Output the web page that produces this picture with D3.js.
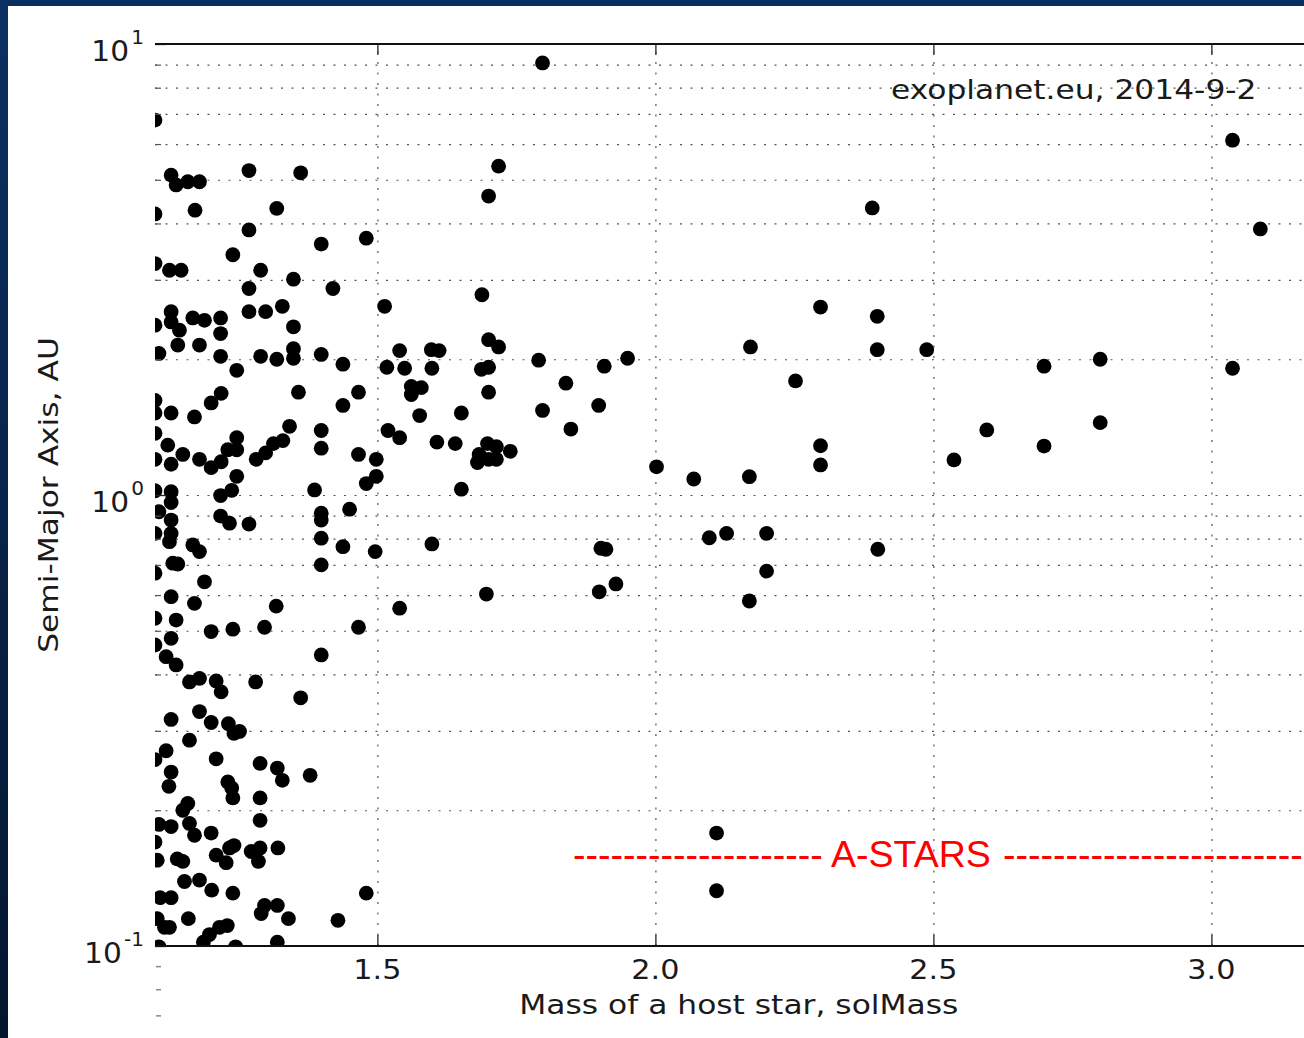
<!DOCTYPE html>
<html><head><meta charset="utf-8">
<script src="https://cdn.jsdelivr.net/npm/d3@7"></script>
<style>html,body{margin:0;padding:0;background:#fff;overflow:hidden}</style>
</head><body>
<svg id="c" width="1304" height="1038"></svg>
<script>
// Host star mass (solMass) and semi-major axis (AU)
const hostMass = [
1.100,1.129,1.138,1.159,1.180,1.269,1.362,1.100,1.172,1.319,1.269,1.240,1.100,1.126,1.147,1.290,1.349,1.269,
1.129,1.129,1.144,1.168,1.189,1.218,1.218,1.269,1.299,1.329,1.349,1.100,1.107,1.141,1.180,1.218,1.247,1.290,
1.319,1.349,1.349,1.100,1.100,1.129,1.171,1.201,1.219,1.358,1.100,1.123,1.150,1.100,1.129,1.180,1.201,1.219,
1.231,1.247,1.247,1.282,1.299,1.313,1.330,1.342,1.247,1.238,1.218,1.100,1.129,1.129,1.107,1.129,1.129,1.126,
1.100,1.218,1.234,1.269,1.168,1.180,1.132,1.141,1.100,1.189,1.129,1.171,1.100,1.138,1.201,1.240,1.297,1.318,
1.129,1.100,1.120,1.138,1.162,1.180,1.210,1.219,1.281,1.362,1.129,1.180,1.201,1.232,1.242,1.252,1.162,1.120,
1.100,1.210,1.289,1.320,1.329,1.379,1.129,1.125,1.231,1.238,1.240,1.289,1.159,1.150,1.289,1.107,1.129,1.162,
1.171,1.201,1.100,1.242,1.234,1.210,1.228,1.273,1.289,1.321,1.286,1.104,1.140,1.150,1.153,1.180,1.202,1.240,
1.109,1.129,1.480,1.297,1.320,1.291,1.340,1.160,1.104,1.117,1.126,1.429,1.230,1.216,1.198,1.187,1.107,1.245,
1.320,
1.399,1.480,1.420,1.513,1.688,1.700,1.718,1.797,1.700,1.718,1.540,1.597,1.611,1.790,1.950,1.908,1.517,1.549,
1.598,1.687,1.700,1.700,1.561,1.579,1.561,1.839,1.576,1.651,1.797,1.898,1.848,1.519,1.540,1.607,1.640,1.698,
1.714,1.739,1.680,1.700,1.714,1.683,1.651,1.438,1.466,1.438,1.399,1.399,1.399,1.466,1.498,1.498,1.480,1.387,
1.399,1.399,1.399,1.399,1.450,1.438,1.496,1.466,1.540,1.598,1.399,1.696,1.902,1.911,1.899,1.929,
2.002,2.069,2.169,2.297,2.297,2.537,2.596,2.699,2.800,2.097,2.128,2.200,2.200,2.169,2.400,2.110,2.110,2.297,
2.399,2.171,2.399,2.488,2.252,2.699,2.800,3.038,2.390,3.038,3.088
];
const semiMajorAxis = [
6.78,5.12,4.87,4.95,4.95,5.24,5.18,4.20,4.28,4.32,3.87,3.41,3.26,3.15,3.15,3.15,3.01,2.87,
2.55,2.42,2.32,2.47,2.44,2.47,2.28,2.55,2.55,2.62,2.36,2.38,2.06,2.15,2.15,2.03,1.89,2.03,
2.00,2.11,2.01,1.62,1.52,1.52,1.49,1.60,1.68,1.69,1.37,1.29,1.23,1.20,1.17,1.20,1.15,1.185,
1.26,1.34,1.26,1.20,1.24,1.30,1.32,1.42,1.10,1.024,0.997,1.022,1.017,0.962,0.918,0.880,0.822,0.788,
0.822,0.898,0.866,0.862,0.775,0.749,0.706,0.703,0.671,0.642,0.595,0.575,0.533,0.528,0.498,0.504,0.509,0.567,
0.481,0.465,0.438,0.420,0.385,0.392,0.387,0.366,0.385,0.355,0.318,0.331,0.313,0.311,0.296,0.299,0.286,0.271,
0.259,0.260,0.254,0.248,0.233,0.239,0.243,0.226,0.231,0.224,0.213,0.213,0.207,0.200,0.190,0.186,0.184,0.187,
0.176,0.178,0.170,0.167,0.165,0.159,0.153,0.162,0.165,0.165,0.154,0.155,0.156,0.154,0.139,0.140,0.133,0.131,
0.128,0.128,0.131,0.123,0.123,0.118,0.115,0.115,0.115,0.110,0.110,0.114,0.111,0.110,0.106,0.102,0.0996,0.0996,
0.102,
3.60,3.71,2.87,2.62,2.78,4.60,5.36,9.08,2.21,2.13,2.09,2.10,2.09,1.99,2.01,1.93,1.92,1.91,
1.91,1.90,1.92,1.69,1.74,1.73,1.67,1.77,1.50,1.52,1.54,1.58,1.40,1.39,1.34,1.31,1.30,1.30,
1.28,1.25,1.18,1.20,1.20,1.23,1.03,1.95,1.69,1.58,2.05,1.39,1.27,1.23,1.20,1.10,1.06,1.026,
0.911,0.880,0.802,0.700,0.930,0.768,0.749,0.509,0.561,0.779,0.442,0.603,0.762,0.758,0.610,0.635,
1.155,1.085,1.098,1.286,1.166,1.196,1.394,1.284,1.447,0.804,0.822,0.822,0.678,0.582,0.758,0.178,0.1326,2.61,
2.49,2.13,2.10,2.10,1.79,1.93,2.00,1.91,4.33,6.12,3.89
];
const xTickValues = [1.5, 2.0, 2.5, 3.0];
const xTickLabels = ["1.5", "2.0", "2.5", "3.0"];
const yMajorValues = [0.1, 1, 10];
const yMajorExponents = ["-1", "0", "1"];
const yBelowTicks = [0.09, 0.08, 0.07];
const xLabel = "Mass of a host star, solMass";
const yLabel = "Semi-Major Axis, AU";
const sourceNote = "exoplanet.eu, 2014-9-2";
const bandLeft = "--------------------";
const bandName = "A-STARS";
const bandRight = "------------------------";

const FONT = "'DejaVu Sans', Verdana, sans-serif";
const TXT = "#1a1a1a";
const SX = 1.16;
const svg = d3.select('#c');
const defs = svg.append('defs');
const lg = defs.append('linearGradient').attr('id','band').attr('x1',0).attr('y1',0).attr('x2',0).attr('y2',1);
lg.append('stop').attr('offset','0%').attr('stop-color','#0b3163');
lg.append('stop').attr('offset','100%').attr('stop-color','#04162f');

const L = 155, T = 44, B = 946, Rimg = 1304;
const x = d3.scaleLinear().domain([1.1, 3.2]).range([L, 1322.6]);
const y = d3.scaleLog().domain([0.1, 10]).range([B, T]);

defs.append('clipPath').attr('id','plot').append('rect')
  .attr('x', L).attr('y', T).attr('width', Rimg - L).attr('height', B - T);

// frame bands
svg.append('rect').attr('x',0).attr('y',0).attr('width',1304).attr('height',6).attr('fill','#0a2f5f');
svg.append('rect').attr('x',0).attr('y',0).attr('width',8).attr('height',1038).attr('fill','url(#band)');

// gridlines
const gridStyle = s => s.attr('stroke','#555').attr('stroke-width',1.2).attr('stroke-dasharray','2,8.5');
const yGridVals = y.ticks().filter(v => v > 0.1 && v < 10);
const gy = svg.append('g').attr('transform', `translate(${L},0)`)
  .call(d3.axisRight(y).tickValues(yGridVals).tickSize(1322.6 - L).tickFormat(''));
gy.select('.domain').remove();
gy.selectAll('line').call(gridStyle);
const gx = svg.append('g').attr('transform', `translate(0,${B})`)
  .call(d3.axisTop(x).tickValues(xTickValues).tickSize(B - T).tickFormat(''));
gx.select('.domain').remove();
gx.selectAll('line').call(gridStyle);

// points
svg.append('g').attr('clip-path','url(#plot)')
  .selectAll('circle').data(hostMass.map((m,i)=>[m, semiMajorAxis[i]]))
  .join('circle')
  .attr('cx', d => x(d[0])).attr('cy', d => y(d[1])).attr('r', 7.4).attr('fill','#000');

// ticks
const tickStyle = s => s.attr('stroke','#222').attr('stroke-width',1.3);
const tTop = svg.append('g').attr('transform',`translate(0,${T})`)
  .call(d3.axisBottom(x).tickValues(xTickValues).tickSize(11).tickFormat(''));
tTop.select('.domain').remove(); tTop.selectAll('line').call(tickStyle);
const tBot = svg.append('g').attr('transform',`translate(0,${B})`)
  .call(d3.axisTop(x).tickValues(xTickValues).tickSize(11).tickFormat(''));
tBot.select('.domain').remove(); tBot.selectAll('line').call(tickStyle);
const tMin = svg.append('g').attr('transform',`translate(${L},0)`)
  .call(d3.axisRight(y).tickValues(yGridVals.filter(v=>v!==1)).tickSize(6).tickFormat(''));
tMin.select('.domain').remove(); tMin.selectAll('line').attr('stroke','#555').attr('stroke-width',1.2);
const tMaj = svg.append('g').attr('transform',`translate(${L},0)`)
  .call(d3.axisRight(y).tickValues(yMajorValues).tickSize(11).tickFormat(''));
tMaj.select('.domain').remove(); tMaj.selectAll('line').call(tickStyle);
svg.append('g').selectAll('line').data(yBelowTicks).join('line')
  .attr('x1', L + 1).attr('x2', L + 6).attr('y1', d => y(d)).attr('y2', d => y(d))
  .attr('stroke','#888').attr('stroke-width',1.5);

// spines
svg.append('line').attr('x1',L).attr('x2',Rimg).attr('y1',T).attr('y2',T).attr('stroke','#111').attr('stroke-width',2);
svg.append('line').attr('x1',L).attr('x2',Rimg).attr('y1',B).attr('y2',B).attr('stroke','#111').attr('stroke-width',2);

// text helper
function stext(tx, ty, str, size, sx, anchor, rot) {
  const g = svg.append('g').attr('transform', `translate(${tx},${ty}) rotate(${rot||0}) scale(${sx},1)`);
  return g.append('text').attr('text-anchor', anchor).attr('font-family', FONT)
    .attr('font-size', size).attr('fill', TXT).text(str);
}
xTickValues.forEach((v,i) => stext(x(v), 979, xTickLabels[i], 27, 1.12, 'middle'));
stext((L + 1322.6) / 2, 1014, xLabel, 27, SX, 'middle');
stext(58, (T + B) / 2, yLabel, 27, SX, 'middle', -90);
stext(891, 99, sourceNote, 27, SX, 'start');

// y tick labels 10^k
yMajorValues.forEach((v,i) => {
  const g = svg.append('g').attr('transform', `translate(144,${y(v) + 16.5}) scale(1.06,1)`);
  const t = g.append('text').attr('text-anchor','end').attr('font-family', FONT).attr('fill', TXT);
  t.append('tspan').attr('font-size', 28).text('10');
  t.append('tspan').attr('font-size', 19).attr('dy', -16.5).attr('dx', 2).text(yMajorExponents[i]);
});

// red annotation
const RED = "'Liberation Sans', Arial, sans-serif";
const ann = svg.append('g').attr('font-family', RED).attr('font-size', 37.5).attr('fill', '#ff0000');
ann.append('text').attr('x', 573).attr('y', 867).text(bandLeft);
ann.append('text').attr('x', 831).attr('y', 867).text(bandName);
ann.append('text').attr('x', 1003).attr('y', 867).text(bandRight);
</script>
</body></html>
